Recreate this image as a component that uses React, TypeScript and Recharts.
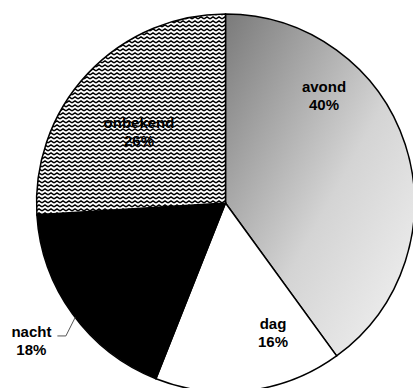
import React from 'react';
import { PieChart, Pie, Cell } from 'recharts';

const categories = ['avond', 'dag', 'nacht', 'onbekend'];
const shares = [40, 16, 18, 26];
const sliceFills = ['url(#avondGrad)', '#ffffff', '#000000', 'url(#zigzag)'];
// label placement: angle (deg, counter-clockwise from 3 o'clock) and radius fraction
const labelAngles = [47.4, -69.9, -144.6, 140.6];
const labelRadii = [0.77, 0.732, 1.26, 0.592];
const leaderLines = [false, false, true, false];

const data = categories.map((name, i) => ({ name, value: shares[i] }));

const RAD = Math.PI / 180;
const FONT = '"Liberation Sans", Arial, sans-serif';

const renderLabel = (props: any) => {
  const { cx, cy, outerRadius, index, value, name } = props;
  const a = labelAngles[index];
  const r = outerRadius * labelRadii[index];
  const ax = cx + r * Math.cos(a * RAD);
  const ay = cy - r * Math.sin(a * RAD);
  const els: any[] = [];
  if (leaderLines[index]) {
    const ea = -142.7;
    const ex = cx + outerRadius * Math.cos(ea * RAD);
    const ey = cy - outerRadius * Math.sin(ea * RAD);
    els.push(
      <polyline
        key="l"
        points={`${ax + 26},${ay - 5} ${ax + 34.5},${ay - 5} ${ex},${ey}`}
        fill="none"
        stroke="#555"
        strokeWidth={1}
      />
    );
  }
  return (
    <g>
      {els}
      <text x={ax} y={ay - 4} textAnchor="middle" fontFamily={FONT} fontSize={15} fontWeight="bold" fill="#000">
        {name}
      </text>
      <text x={ax} y={ay + 14} textAnchor="middle" fontFamily={FONT} fontSize={15} fontWeight="bold" fill="#000">
        {`${value}%`}
      </text>
    </g>
  );
};

export default function App() {
  return (
    <div style={{ position: 'absolute', left: 0, top: 0, width: 413, height: 388, overflow: 'hidden', background: '#fff' }}>
      <PieChart width={413} height={388} margin={{ top: 0, right: 0, bottom: 0, left: 0 }}>
        <defs>
          <linearGradient id="avondGrad" x1="0" y1="0" x2="1" y2="1">
            <stop offset="0%" stopColor="#7a7a7a" />
            <stop offset="55%" stopColor="#d4d4d4" />
            <stop offset="100%" stopColor="#f4f4f4" />
          </linearGradient>
          <pattern id="zigzag" x="0" y="0" width="6" height="4" patternUnits="userSpaceOnUse">
            <rect x="0" y="0" width="6" height="4" fill="#fff" />
            <path d="M0,3 L3,1 L6,3" fill="none" stroke="#000" strokeWidth={1.5} />
          </pattern>
        </defs>
        <Pie
          data={data}
          dataKey="value"
          nameKey="name"
          cx={225.5}
          cy={203}
          outerRadius={189}
          innerRadius={0}
          startAngle={90}
          endAngle={-270}
          stroke="#000"
          strokeWidth={1.5}
          label={renderLabel}
          labelLine={false}
          isAnimationActive={false}
        >
          {data.map((d, i) => (
            <Cell key={d.name} fill={sliceFills[i]} stroke="#000" strokeWidth={1.5} />
          ))}
        </Pie>
      </PieChart>
    </div>
  );
}
